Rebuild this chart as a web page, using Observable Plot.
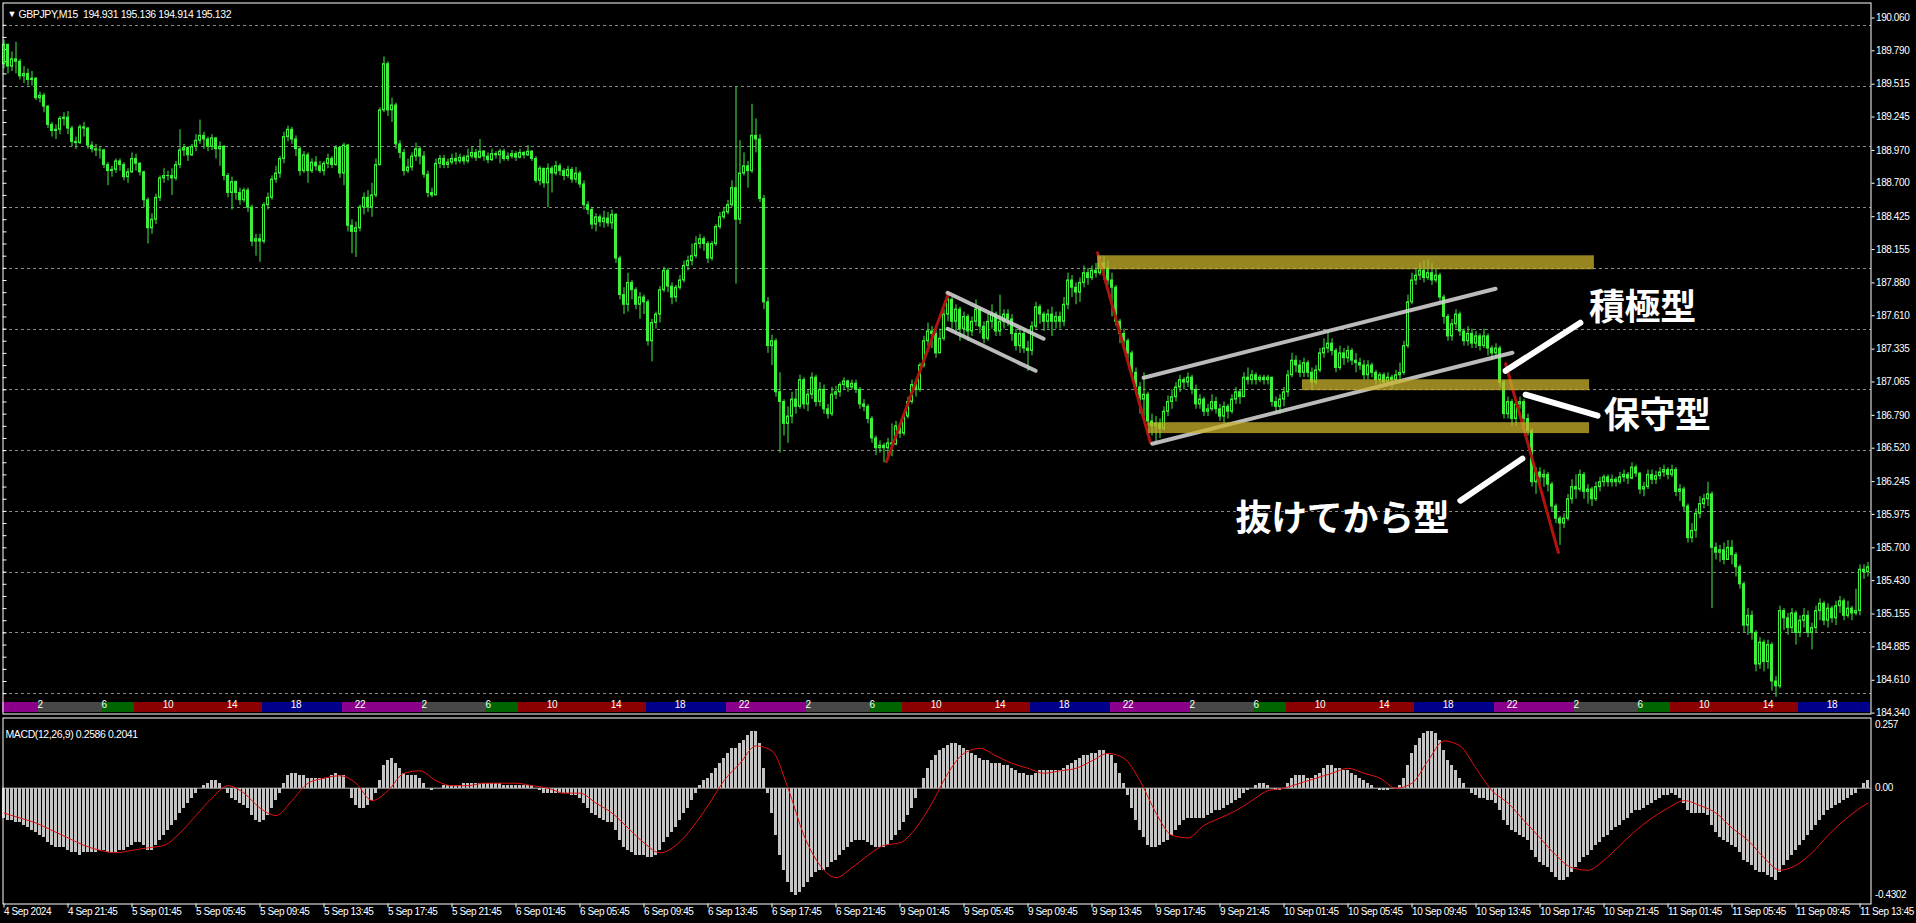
<!DOCTYPE html>
<html><head><meta charset="utf-8">
<script src="https://cdn.jsdelivr.net/npm/d3@7"></script>
<script src="https://cdn.jsdelivr.net/npm/@observablehq/plot@0.6"></script>
<style>
html,body{margin:0;padding:0;background:#000;}
#wrap{position:relative;width:1916px;height:923px;background:#000;overflow:hidden;}
#wrap svg{position:absolute;left:0;}
#wrap svg text{letter-spacing:-0.4px;}
#wrap svg g[aria-label="notes"] text{letter-spacing:0;}
</style></head><body><div id="wrap"></div>
<script>
// ---------- DATA (GBPJPY M15, bar 0 = 4 Sep 17:45 server time) ----------
const firstOpen = 189.68;
const closes = [
189.84,189.66,189.72,189.70,189.58,189.60,189.55,189.56,189.40,189.42,
189.33,189.18,189.13,189.14,189.23,189.24,189.15,189.04,189.03,189.16,
189.15,189.01,188.98,188.97,188.97,188.85,188.80,188.81,188.88,188.85,
188.75,188.79,188.90,188.86,188.79,188.56,188.33,188.40,188.58,188.74,
188.76,188.76,188.74,188.85,188.97,188.99,188.93,189.00,189.05,189.09,
189.06,189.00,189.07,188.98,189.00,188.76,188.62,188.71,188.62,188.56,
188.64,188.50,188.22,188.24,188.22,188.52,188.58,188.73,188.78,188.90,
189.08,189.14,189.06,188.98,188.80,188.93,188.80,188.87,188.84,188.80,
188.86,188.90,188.85,188.99,188.78,189.01,188.35,188.30,188.33,188.50,
188.58,188.50,188.60,188.85,189.30,189.68,189.30,189.34,189.02,188.95,
188.80,188.83,188.92,188.98,188.92,188.77,188.62,188.60,188.86,188.90,
188.85,188.87,188.90,188.88,188.91,188.88,188.92,188.95,188.91,188.96,
188.92,188.89,188.94,188.93,188.96,188.90,188.92,188.94,188.91,188.95,
188.93,188.96,188.90,188.72,188.82,188.70,188.82,188.78,188.84,188.80,
188.76,188.81,188.73,188.78,188.69,188.52,188.48,188.36,188.42,188.38,
188.41,188.37,188.44,188.08,187.78,187.70,187.88,187.82,187.70,187.76,
187.72,187.40,187.55,187.62,187.82,187.98,187.85,187.76,187.84,187.90,
188.02,188.06,188.10,188.20,188.24,188.20,188.08,188.20,188.34,188.42,
188.46,188.52,188.66,188.40,188.78,188.84,188.80,189.09,189.06,188.57,
187.72,187.36,187.40,186.98,186.90,186.72,186.78,186.92,186.86,187.08,
186.88,186.96,187.10,186.90,187.00,186.84,186.80,186.96,186.98,187.04,
187.07,187.02,187.05,187.00,186.88,186.86,186.76,186.60,186.52,186.54,
186.52,186.56,186.55,186.70,186.64,186.78,186.90,187.04,187.00,187.20,
187.40,187.48,187.46,187.30,187.42,187.62,187.74,187.56,187.66,187.50,
187.60,187.48,187.56,187.66,187.52,187.42,187.56,187.62,187.48,187.56,
187.62,187.58,187.46,187.36,187.46,187.34,187.32,187.52,187.68,187.62,
187.56,187.62,187.56,187.60,187.56,187.70,187.90,187.84,187.80,187.88,
187.96,187.92,187.98,187.96,188.04,188.00,187.90,187.84,187.56,187.46,
187.40,187.30,187.14,187.02,186.92,186.96,186.74,186.70,186.72,186.68,
186.82,186.90,186.94,187.02,187.08,187.06,187.10,187.00,186.88,186.92,
186.82,186.84,186.90,186.84,186.78,186.86,186.82,186.92,186.98,186.94,
187.10,187.08,187.12,187.08,187.10,187.08,187.10,186.90,186.86,186.92,
186.98,187.12,187.24,187.20,187.14,187.22,187.14,187.06,187.16,187.30,
187.34,187.38,187.32,187.18,187.30,187.26,187.32,187.24,187.22,187.20,
187.12,187.20,187.14,187.08,187.12,187.06,187.10,187.08,187.12,187.14,
187.36,187.72,187.90,187.94,187.98,187.92,187.96,187.90,187.94,187.76,
187.60,187.44,187.54,187.62,187.48,187.40,187.46,187.38,187.44,187.36,
187.44,187.34,187.30,187.34,187.06,186.80,186.90,186.76,186.88,186.90,
186.76,186.66,186.24,186.32,186.28,186.30,186.22,186.04,185.94,185.90,
185.94,186.10,186.20,186.18,186.30,186.16,186.18,186.10,186.20,186.24,
186.28,186.24,186.26,186.24,186.28,186.30,186.27,186.36,186.31,186.18,
186.20,186.30,186.26,186.29,186.32,186.34,186.30,186.34,186.16,186.18,
186.04,185.78,185.84,185.98,186.06,186.10,186.14,185.70,185.66,185.68,
185.60,185.70,185.64,185.54,185.40,185.06,185.14,185.00,184.74,184.92,
184.76,184.90,184.60,184.56,185.18,185.12,185.04,185.16,185.00,185.10,
185.14,185.00,185.04,185.18,185.24,185.10,185.20,185.12,185.22,185.26,
185.14,185.20,185.16,185.18,185.52,185.50,185.54];
const highs = [
189.88,189.84,189.78,189.86,189.72,189.66,189.64,189.62,189.57,189.45,
189.44,189.34,189.20,189.18,189.25,189.28,189.29,189.17,189.08,189.18,
189.20,189.16,189.04,189.02,189.00,188.98,188.87,188.84,188.90,188.90,
188.87,188.82,188.95,188.94,188.87,188.80,188.58,188.45,188.61,188.76,
188.82,188.80,188.82,188.88,189.14,189.02,189.00,189.02,189.10,189.22,
189.12,189.08,189.10,189.05,189.04,189.01,188.78,188.75,188.72,188.66,
188.66,188.66,188.52,188.28,188.28,188.54,188.62,188.76,188.84,188.92,
189.12,189.17,189.16,189.09,189.00,188.96,188.95,188.90,188.92,188.88,
188.88,188.94,188.92,189.01,189.00,189.03,189.02,188.40,188.38,188.52,
188.62,188.64,188.70,188.90,189.32,189.74,189.70,189.40,189.36,189.05,
188.98,188.90,188.95,189.03,189.00,188.96,188.80,188.66,188.90,188.93,
188.93,188.90,188.94,188.95,188.94,188.93,188.98,189.00,188.98,189.06,
188.97,188.95,188.98,188.96,188.98,188.98,188.95,188.97,188.96,188.98,
188.96,189.01,188.97,188.92,188.84,188.82,188.86,188.84,188.88,188.86,
188.82,188.84,188.83,188.83,188.80,188.72,188.55,188.50,188.45,188.44,
188.47,188.46,188.48,188.45,188.10,187.84,187.96,187.90,187.84,187.80,
187.78,187.74,187.58,187.64,187.85,188.01,188.00,187.88,187.86,187.94,
188.06,188.10,188.20,188.26,188.28,188.26,188.22,188.22,188.36,188.46,
188.50,188.56,188.72,189.49,189.05,188.95,188.88,189.35,189.23,189.10,
188.60,187.76,187.45,187.42,187.14,186.92,186.86,186.98,187.00,187.12,
187.10,187.00,187.14,187.12,187.06,187.04,186.88,187.02,187.03,187.06,
187.10,187.08,187.08,187.08,187.02,186.92,186.88,186.78,186.62,186.58,
186.56,186.60,186.72,186.74,186.72,186.80,186.94,187.08,187.08,187.22,
187.44,187.55,187.52,187.50,187.50,187.66,187.80,187.76,187.70,187.68,
187.64,187.62,187.60,187.74,187.68,187.56,187.62,187.70,187.64,187.78,
187.66,187.66,187.62,187.50,187.50,187.50,187.40,187.56,187.72,187.70,
187.64,187.66,187.68,187.64,187.64,187.76,187.96,187.94,187.88,187.92,
188.02,188.00,188.02,188.04,188.10,188.10,188.06,187.96,187.86,187.58,
187.50,187.42,187.32,187.18,187.06,187.14,186.98,186.80,186.78,186.76,
186.86,186.95,187.00,187.06,187.12,187.10,187.14,187.12,187.04,186.96,
186.94,186.88,186.96,186.94,186.88,186.90,186.88,186.96,187.02,187.00,
187.14,187.18,187.16,187.14,187.12,187.12,187.12,187.10,186.94,186.96,
187.02,187.16,187.30,187.28,187.24,187.26,187.24,187.18,187.20,187.34,
187.42,187.48,187.42,187.34,187.36,187.34,187.36,187.34,187.30,187.26,
187.24,187.24,187.22,187.16,187.14,187.14,187.14,187.12,187.16,187.22,
187.40,187.78,187.96,188.00,188.04,188.06,188.07,188.04,188.00,187.96,
187.78,187.62,187.58,187.66,187.64,187.50,187.52,187.50,187.48,187.46,
187.50,187.46,187.36,187.38,187.36,187.08,186.94,186.92,186.92,186.94,
186.92,186.80,186.68,186.36,186.36,186.34,186.32,186.24,186.06,185.96,
185.98,186.14,186.26,186.30,186.34,186.32,186.22,186.20,186.24,186.28,
186.30,186.30,186.30,186.28,186.32,186.34,186.32,186.40,186.38,186.32,
186.24,186.34,186.34,186.33,186.36,186.38,186.36,186.38,186.36,186.22,
186.20,186.06,185.90,186.02,186.12,186.14,186.24,186.16,185.74,185.72,
185.74,185.76,185.76,185.66,185.56,185.42,185.20,185.18,185.02,184.96,
184.94,184.94,184.92,184.64,185.22,185.20,185.16,185.20,185.18,185.14,
185.20,185.18,185.08,185.22,185.28,185.26,185.24,185.22,185.26,185.30,
185.28,185.26,185.22,185.36,185.56,185.56,185.58];
const lows = [
189.64,189.60,189.62,189.60,189.55,189.52,189.50,189.50,189.38,189.36,
189.28,189.15,189.08,189.06,189.10,189.17,189.10,189.00,188.98,189.02,
189.08,188.98,188.95,188.92,188.90,188.82,188.68,188.75,188.78,188.80,
188.72,188.70,188.78,188.80,188.76,188.50,188.20,188.28,188.36,188.55,
188.70,188.72,188.60,188.72,188.82,188.92,188.88,188.92,188.96,189.02,
188.98,188.96,188.97,188.90,188.84,188.72,188.58,188.48,188.56,188.52,
188.54,188.46,188.18,188.10,188.05,188.20,188.48,188.56,188.70,188.74,
188.86,189.04,189.02,188.92,188.76,188.78,188.70,188.78,188.80,188.78,
188.76,188.82,188.82,188.84,188.74,188.68,188.30,188.12,188.09,188.30,
188.44,188.46,188.42,188.58,188.84,189.28,189.25,189.20,188.98,188.90,
188.76,188.78,188.80,188.88,188.85,188.74,188.58,188.58,188.60,188.82,
188.82,188.82,188.85,188.85,188.86,188.85,188.86,188.90,188.88,188.90,
188.88,188.86,188.88,188.90,188.86,188.88,188.88,188.90,188.88,188.90,
188.90,188.92,188.88,188.70,188.68,188.66,188.50,188.62,188.76,188.76,
188.72,188.74,188.70,188.70,188.66,188.48,188.44,188.32,188.30,188.34,
188.33,188.34,188.32,188.04,187.74,187.62,187.64,187.74,187.66,187.58,
187.62,187.36,187.23,187.50,187.55,187.80,187.80,187.70,187.72,187.82,
187.88,187.98,188.02,188.08,188.16,188.14,188.04,188.06,188.18,188.32,
188.40,188.44,188.50,187.87,188.36,188.76,188.66,188.78,188.95,188.54,
187.66,187.30,187.20,186.94,186.48,186.62,186.56,186.72,186.80,186.84,
186.84,186.82,186.92,186.86,186.86,186.80,186.76,186.78,186.92,186.94,
187.00,186.98,187.00,186.97,186.84,186.82,186.72,186.56,186.46,186.48,
186.40,186.44,186.45,186.54,186.60,186.62,186.76,186.88,186.94,186.98,
187.18,187.36,187.34,187.26,187.30,187.40,187.56,187.50,187.46,187.40,
187.44,187.40,187.44,187.52,187.46,187.38,187.40,187.50,187.44,187.44,
187.50,187.52,187.40,187.32,187.30,187.30,187.15,187.28,187.50,187.54,
187.48,187.50,187.44,187.50,187.50,187.52,187.66,187.76,187.70,187.72,
187.84,187.86,187.90,187.92,187.94,187.90,187.86,187.60,187.52,187.38,
187.34,187.22,187.10,186.96,186.80,186.74,186.70,186.62,186.55,186.60,
186.66,186.78,186.84,186.90,186.98,187.00,187.02,186.96,186.84,186.84,
186.78,186.78,186.82,186.80,186.74,186.72,186.76,186.80,186.88,186.88,
186.94,187.04,187.04,187.04,187.06,187.04,187.04,186.86,186.80,186.80,
186.86,186.94,187.10,187.14,187.10,187.10,187.10,187.00,187.04,187.14,
187.26,187.30,187.28,187.14,187.16,187.20,187.22,187.20,187.14,187.16,
187.08,187.08,187.10,187.04,187.04,187.02,187.04,187.00,187.06,187.08,
187.12,187.34,187.70,187.86,187.90,187.88,187.90,187.86,187.88,187.72,
187.54,187.40,187.40,187.50,187.44,187.36,187.36,187.34,187.34,187.32,
187.34,187.28,187.24,187.26,187.02,186.76,186.76,186.70,186.70,186.84,
186.70,186.62,186.20,186.14,186.18,186.20,186.16,186.00,185.90,185.72,
185.86,185.92,186.06,186.10,186.16,186.10,186.06,186.04,186.08,186.16,
186.20,186.20,186.20,186.20,186.22,186.24,186.22,186.26,186.28,186.14,
186.12,186.18,186.22,186.22,186.26,186.28,186.26,186.28,186.12,186.08,
186.00,185.74,185.74,185.78,185.94,186.02,186.04,185.20,185.60,185.58,
185.56,185.60,185.56,185.46,185.36,185.00,184.98,184.94,184.68,184.70,
184.68,184.70,184.52,184.47,184.54,185.02,184.98,185.00,184.90,184.96,
185.04,184.96,184.86,185.00,185.10,185.06,185.04,185.08,185.06,185.16,
185.10,185.12,185.10,185.14,185.14,185.44,185.46];

// MACD(12,26,9) main line per bar (histogram) and signal line readings
const macdValues = [
-0.12,-0.13,-0.13,-0.14,-0.14,-0.15,-0.16,-0.17,-0.18,-0.19,
-0.20,-0.22,-0.23,-0.24,-0.24,-0.24,-0.25,-0.26,-0.26,-0.27,
-0.26,-0.26,-0.26,-0.26,-0.25,-0.25,-0.26,-0.26,-0.26,-0.25,
-0.25,-0.24,-0.23,-0.22,-0.22,-0.23,-0.25,-0.25,-0.23,-0.21,
-0.19,-0.17,-0.15,-0.13,-0.10,-0.08,-0.06,-0.04,-0.02,0.00,
0.01,0.02,0.03,0.03,0.02,0.00,-0.02,-0.04,-0.05,-0.06,
-0.07,-0.08,-0.11,-0.13,-0.14,-0.13,-0.11,-0.08,-0.05,-0.02,
0.02,0.05,0.06,0.06,0.05,0.05,0.04,0.04,0.04,0.04,
0.04,0.04,0.05,0.06,0.05,0.05,0.00,-0.04,-0.07,-0.08,
-0.08,-0.07,-0.05,-0.02,0.03,0.09,0.11,0.12,0.10,0.08,
0.06,0.05,0.05,0.05,0.04,0.02,0.00,-0.01,0.00,0.00,
0.01,0.01,0.01,0.01,0.01,0.02,0.02,0.02,0.02,0.02,
0.02,0.02,0.02,0.02,0.02,0.01,0.01,0.01,0.01,0.01,
0.01,0.01,0.01,0.00,-0.01,-0.02,-0.02,-0.02,-0.02,-0.02,
-0.02,-0.02,-0.03,-0.03,-0.04,-0.06,-0.08,-0.10,-0.11,-0.12,
-0.13,-0.14,-0.14,-0.17,-0.21,-0.24,-0.25,-0.26,-0.27,-0.27,
-0.27,-0.28,-0.28,-0.27,-0.25,-0.22,-0.20,-0.18,-0.16,-0.13,
-0.10,-0.08,-0.05,-0.02,0.01,0.03,0.04,0.06,0.08,0.10,
0.12,0.14,0.16,0.16,0.18,0.19,0.21,0.23,0.23,0.18,
0.08,-0.02,-0.10,-0.19,-0.27,-0.33,-0.38,-0.42,-0.43,-0.42,
-0.40,-0.38,-0.36,-0.34,-0.33,-0.33,-0.32,-0.30,-0.29,-0.27,
-0.25,-0.24,-0.22,-0.21,-0.21,-0.21,-0.22,-0.23,-0.24,-0.24,
-0.24,-0.23,-0.21,-0.19,-0.17,-0.14,-0.11,-0.08,-0.04,0.00,
0.04,0.08,0.11,0.13,0.15,0.16,0.17,0.18,0.18,0.17,
0.16,0.15,0.14,0.13,0.12,0.11,0.11,0.10,0.10,0.10,
0.09,0.09,0.08,0.07,0.06,0.06,0.05,0.05,0.06,0.07,
0.07,0.07,0.07,0.07,0.07,0.08,0.09,0.10,0.11,0.12,
0.13,0.13,0.14,0.14,0.15,0.15,0.14,0.13,0.10,0.06,
0.02,-0.03,-0.08,-0.13,-0.17,-0.20,-0.23,-0.24,-0.24,-0.23,
-0.22,-0.21,-0.19,-0.17,-0.15,-0.13,-0.12,-0.12,-0.12,-0.12,
-0.12,-0.11,-0.10,-0.09,-0.09,-0.08,-0.07,-0.06,-0.05,-0.04,
-0.02,-0.01,0.00,0.01,0.02,0.02,0.01,0.00,-0.01,-0.01,
0.00,0.02,0.04,0.05,0.05,0.05,0.04,0.04,0.05,0.06,
0.08,0.09,0.09,0.08,0.08,0.07,0.07,0.06,0.05,0.04,
0.03,0.02,0.01,0.00,-0.01,-0.01,-0.01,0.00,0.00,0.01,
0.04,0.09,0.14,0.17,0.20,0.22,0.23,0.23,0.22,0.19,
0.15,0.11,0.09,0.07,0.04,0.02,0.00,-0.02,-0.03,-0.04,
-0.04,-0.05,-0.05,-0.06,-0.09,-0.13,-0.15,-0.17,-0.18,-0.19,
-0.20,-0.21,-0.25,-0.28,-0.30,-0.31,-0.32,-0.34,-0.36,-0.37,
-0.37,-0.36,-0.34,-0.32,-0.30,-0.28,-0.27,-0.25,-0.23,-0.22,
-0.20,-0.19,-0.17,-0.16,-0.15,-0.13,-0.12,-0.10,-0.09,-0.09,
-0.08,-0.07,-0.06,-0.05,-0.04,-0.03,-0.03,-0.02,-0.03,-0.04,
-0.06,-0.09,-0.10,-0.10,-0.10,-0.10,-0.11,-0.15,-0.18,-0.20,
-0.21,-0.22,-0.23,-0.24,-0.26,-0.29,-0.30,-0.31,-0.33,-0.34,
-0.34,-0.35,-0.36,-0.37,-0.34,-0.31,-0.29,-0.27,-0.25,-0.23,
-0.21,-0.19,-0.17,-0.15,-0.13,-0.11,-0.09,-0.08,-0.07,-0.06,
-0.05,-0.04,-0.03,-0.02,0.00,0.02,0.03];
const signalBars = [0,4,8,12,16,20,24,28,32,36,40,44,48,52,56,60,64,68,72,76,80,84,88,92,96,100,104,108,112,116,120,124,128,132,136,140,144,148,152,156,160,164,168,172,176,180,184,188,192,196,200,204,208,212,216,220,224,228,232,236,240,244,248,252,256,260,264,268,272,276,280,284,288,292,296,300,304,308,312,316,320,324,328,332,336,340,344,348,352,356,360,364,368,372,376,380,384,388,392,396,400,404,408,412,416,420,424,428,432,436,440,444,448,452,456,460,464,466];
const signalValues = [-0.10,-0.12,-0.14,-0.17,-0.20,-0.23,-0.25,-0.26,-0.25,-0.24,-0.23,-0.18,-0.11,-0.04,0.01,-0.02,-0.08,-0.11,-0.05,0.02,0.04,0.05,0.02,-0.05,-0.01,0.06,0.07,0.03,0.01,0.01,0.02,0.02,0.02,0.01,0.00,-0.02,-0.02,-0.06,-0.10,-0.16,-0.22,-0.26,-0.23,-0.16,-0.07,0.03,0.10,0.17,0.15,0.00,-0.19,-0.31,-0.36,-0.32,-0.27,-0.23,-0.22,-0.16,-0.06,0.06,0.14,0.16,0.13,0.10,0.08,0.06,0.07,0.08,0.11,0.14,0.12,0.03,-0.10,-0.19,-0.20,-0.15,-0.12,-0.09,-0.05,-0.01,0.00,0.02,0.04,0.06,0.08,0.06,0.04,0.00,0.02,0.11,0.19,0.17,0.08,-0.01,-0.06,-0.13,-0.20,-0.27,-0.32,-0.33,-0.29,-0.23,-0.17,-0.12,-0.08,-0.05,-0.07,-0.10,-0.16,-0.21,-0.28,-0.33,-0.31,-0.26,-0.19,-0.13,-0.08,-0.06];

// Axis ticks / labels
const priceTicks = [190.060,189.790,189.515,189.245,188.970,188.700,188.425,188.155,187.880,187.610,187.335,187.065,186.790,186.520,186.245,185.975,185.700,185.430,185.155,184.885,184.610,184.340];
const gridLevels = [184.5,185.0,185.5,186.0,186.5,187.0,187.5,188.0,188.5,189.0,189.5,190.0];
const timeTicks = [0,16,32,48,64,80,96,112,128,144,160,176,192,208,224,240,256,272,288,304,320,336,352,368,384,400,416,432,448,464];
const timeLabels = ["4 Sep 2024","4 Sep 21:45","5 Sep 01:45","5 Sep 05:45","5 Sep 09:45","5 Sep 13:45","5 Sep 17:45","5 Sep 21:45","6 Sep 01:45","6 Sep 05:45","6 Sep 09:45","6 Sep 13:45","6 Sep 17:45","6 Sep 21:45","9 Sep 01:45","9 Sep 05:45","9 Sep 09:45","9 Sep 13:45","9 Sep 17:45","9 Sep 21:45","10 Sep 01:45","10 Sep 05:45","10 Sep 09:45","10 Sep 13:45","10 Sep 17:45","10 Sep 21:45","11 Sep 01:45","11 Sep 05:45","11 Sep 09:45","11 Sep 13:45"];
const macdTicks = [0.257, 0, -0.4302];
const macdTickLabels = ["0.257", "0.00", "-0.4302"];

// Session bar (JST hours): start hour of each session and its colour
const sessionStartHours = [2, 6, 8, 16, 21];
const sessionColors = ["#474747", "#006400", "#8b0000", "#00008b", "#8b008b"];
const sessionLabelHours = [2, 6, 10, 14, 18, 22];

// Drawn annotations (bar index, price)
const bandStartBar = [273.4, 324.6, 286.1];
const bandEndBar   = [397.6, 396.4, 396.4];
const bandLow      = [187.988, 186.993, 186.640];
const bandHigh     = [188.103, 187.083, 186.730];
const redLines  = [[220.6,186.409,236.1,187.791],[273.4,188.128,286.6,186.565],[375.4,187.215,388.6,185.661]];
const grayLines = [[235.9,187.799,259.9,187.421],[235.9,187.503,257.9,187.157],[284.9,187.100,372.9,187.832],[287.1,186.557,377.1,187.305]];
const pointerLines = [[375.4,187.157,394.1,187.552],[380.4,186.960,398.4,186.787],[379.6,186.434,364.1,186.088]];
const noteTexts  = ["積極型", "保守型", "抜けてから型"];
const noteBars   = [409.6, 413.3, 334.6];
const notePrices = [187.667, 186.779, 185.935];

const titleText = "GBPJPY,M15  194.931 195.136 194.914 195.132";
const macdTitle = "MACD(12,26,9) 0.2586 0.2041";

// ---------- BUILD ----------
const LIME = "#3cf03c";
const FONT = "'Liberation Sans', Arial, sans-serif";
const lastIndex = closes.length - 1;
const bars = closes.map((c, i) => {
  const o = i === 0 ? firstOpen : closes[i - 1];
  return {i, o, c, h: Math.max(highs[i], o, c), l: Math.min(lows[i], o, c)};
});
// JST hour for each bar (server time +6h, weekend gap after bar 216)
function jstHour(i) { return i <= 216 ? (23.75 + 0.25 * i) % 24 : (6 + 0.25 * (i - 217)) % 24; }
function sessionColor(h) {
  if (h >= sessionStartHours[4] || h < sessionStartHours[0]) return sessionColors[4];
  for (let k = 3; k >= 0; k--) if (h >= sessionStartHours[k]) return sessionColors[k];
}
const sessionCells = bars.map(b => ({i: b.i, color: sessionColor(jstHour(b.i))}));
const sessionLabels = bars.filter(b => sessionLabelHours.includes(jstHour(b.i))).map(b => ({i: b.i, label: String(jstHour(b.i))}));
const bands = bandStartBar.map((s, k) => ({x1: s, x2: bandEndBar[k], y1: bandLow[k], y2: bandHigh[k]}));
const toLink = a => a.map(([x1, y1, x2, y2]) => ({x1, y1, x2, y2}));
const notes = noteTexts.map((t, k) => ({t, x: noteBars[k], y: notePrices[k]}));
const minorLevels = d3.range(1844, 1901).map(k => k / 10);

const xScale = {domain: [0, lastIndex], range: [3.5, 3.5 + 4 * lastIndex], axis: null};

const main = Plot.plot({
  width: 1916, height: 716,
  marginLeft: 2.5, marginRight: 45.5, marginTop: 2.5, marginBottom: 2.5,
  style: {background: "#000", color: "#fff", fontFamily: FONT, fontSize: "10px", overflow: "visible"},
  x: xScale,
  y: {domain: [184.34, 190.06], range: [712.6, 17.5], axis: null},
  color: {type: "identity"},
  marks: [
    Plot.ruleY(gridLevels, {stroke: "#8a8a8a", strokeDasharray: "3,3", shapeRendering: "crispEdges"}),
    Plot.axisY({anchor: "left", ticks: minorLevels, tickSize: -4, tickFormat: () => "", stroke: "#fff", label: null}),
    Plot.rect(sessionCells, {x1: d => d.i - 0.5, x2: d => d.i + 0.5, fill: "color", insetTop: 699.5, insetBottom: 1.5, shapeRendering: "crispEdges"}),
    Plot.text(sessionLabels, {x: "i", text: "label", frameAnchor: "bottom", dy: -6.5, fill: "#fff", fontSize: 10}),
    Plot.ruleX(bars, {x: "i", y1: "l", y2: "h", stroke: LIME, strokeWidth: 1}),
    Plot.rect(bars, {x1: d => d.i - 0.375, x2: d => d.i + 0.375, y1: "o", y2: "c", fill: LIME, insetTop: -0.5, insetBottom: -0.5}),
    Plot.rect(bars.filter(b => b.c > b.o), {x1: d => d.i - 0.125, x2: d => d.i + 0.125, y1: "o", y2: "c", fill: "#000", insetTop: 1, insetBottom: 1}),
    Plot.link(toLink(redLines), {x1: "x1", y1: "y1", x2: "x2", y2: "y2", stroke: "#b01410", strokeWidth: 3, strokeLinecap: "round"}),
    Plot.link(toLink(grayLines), {x1: "x1", y1: "y1", x2: "x2", y2: "y2", stroke: "#cfcfcf", strokeWidth: 4, strokeOpacity: 0.9, strokeLinecap: "round"}),
    Plot.rect(bands, {x1: "x1", x2: "x2", y1: "y1", y2: "y2", fill: "rgb(200,178,44)", fillOpacity: 0.75}),
    Plot.link(toLink(pointerLines), {x1: "x1", y1: "y1", x2: "x2", y2: "y2", stroke: "#fff", strokeWidth: 6, strokeLinecap: "round"}),
    Plot.text(notes, {x: "x", y: "y", text: "t", fill: "#fff", fontSize: 36, fontWeight: 700, fontFamily: "'Noto Sans CJK JP', sans-serif", ariaLabel: "notes"}),
    Plot.axisY({anchor: "right", ticks: priceTicks, tickFormat: d => d.toFixed(3), tickSize: 3, tickPadding: 2, stroke: "#fff", fill: "#fff", fontSize: 10, label: null}),
    Plot.frame({stroke: "#fff"}),
    Plot.text(["▼"], {frameAnchor: "top-left", dx: 4.5, dy: 7.5, textAnchor: "start", fill: "#fff", fontSize: 9}),
    Plot.text([titleText], {frameAnchor: "top-left", dx: 15.5, dy: 7.5, textAnchor: "start", fill: "#fff", fontSize: 10.5})
  ]
});
main.style.top = "0px";

const macdBars = macdValues.map((v, i) => ({i, v}));
const signalPts = signalBars.map((b, k) => ({i: b, v: signalValues[k]}));
const macdPlot = Plot.plot({
  width: 1916, height: 207,
  marginLeft: 2.5, marginRight: 45.5, marginTop: 1.5, marginBottom: 19.5,
  style: {background: "#000", color: "#fff", fontFamily: FONT, fontSize: "10px", overflow: "visible"},
  x: xScale,
  y: {domain: [-0.4302, 0.257], range: [178.6, 7.8], axis: null},
  marks: [
    Plot.ruleY([0], {stroke: "#bdbdbd"}),
    Plot.rect(macdBars, {x1: d => d.i - 0.375, x2: d => d.i + 0.375, y1: 0, y2: "v", fill: "#c4c4c4", shapeRendering: "crispEdges"}),
    Plot.line(signalPts, {x: "i", y: "v", stroke: "#e01010", strokeWidth: 1, curve: "monotone-x"}),
    Plot.axisY({anchor: "right", ticks: macdTicks, tickFormat: d => macdTickLabels[macdTicks.indexOf(d)], tickSize: 0, tickPadding: 4, fill: "#fff", fontSize: 10, label: null}),
    Plot.axisX({anchor: "bottom", ticks: timeTicks, tickFormat: d => timeLabels[timeTicks.indexOf(d)], tickSize: 4, tickPadding: 0, textAnchor: "start", stroke: "#fff", fill: "#fff", fontSize: 10, label: null}),
    Plot.frame({stroke: "#fff"}),
    Plot.text([macdTitle], {frameAnchor: "top-left", dx: 2.5, dy: 12.5, textAnchor: "start", fill: "#fff", fontSize: 10.5})
  ]
});
macdPlot.style.top = "716px";

const wrap = document.getElementById("wrap");
wrap.appendChild(macdPlot);
wrap.appendChild(main);
</script></body></html>
